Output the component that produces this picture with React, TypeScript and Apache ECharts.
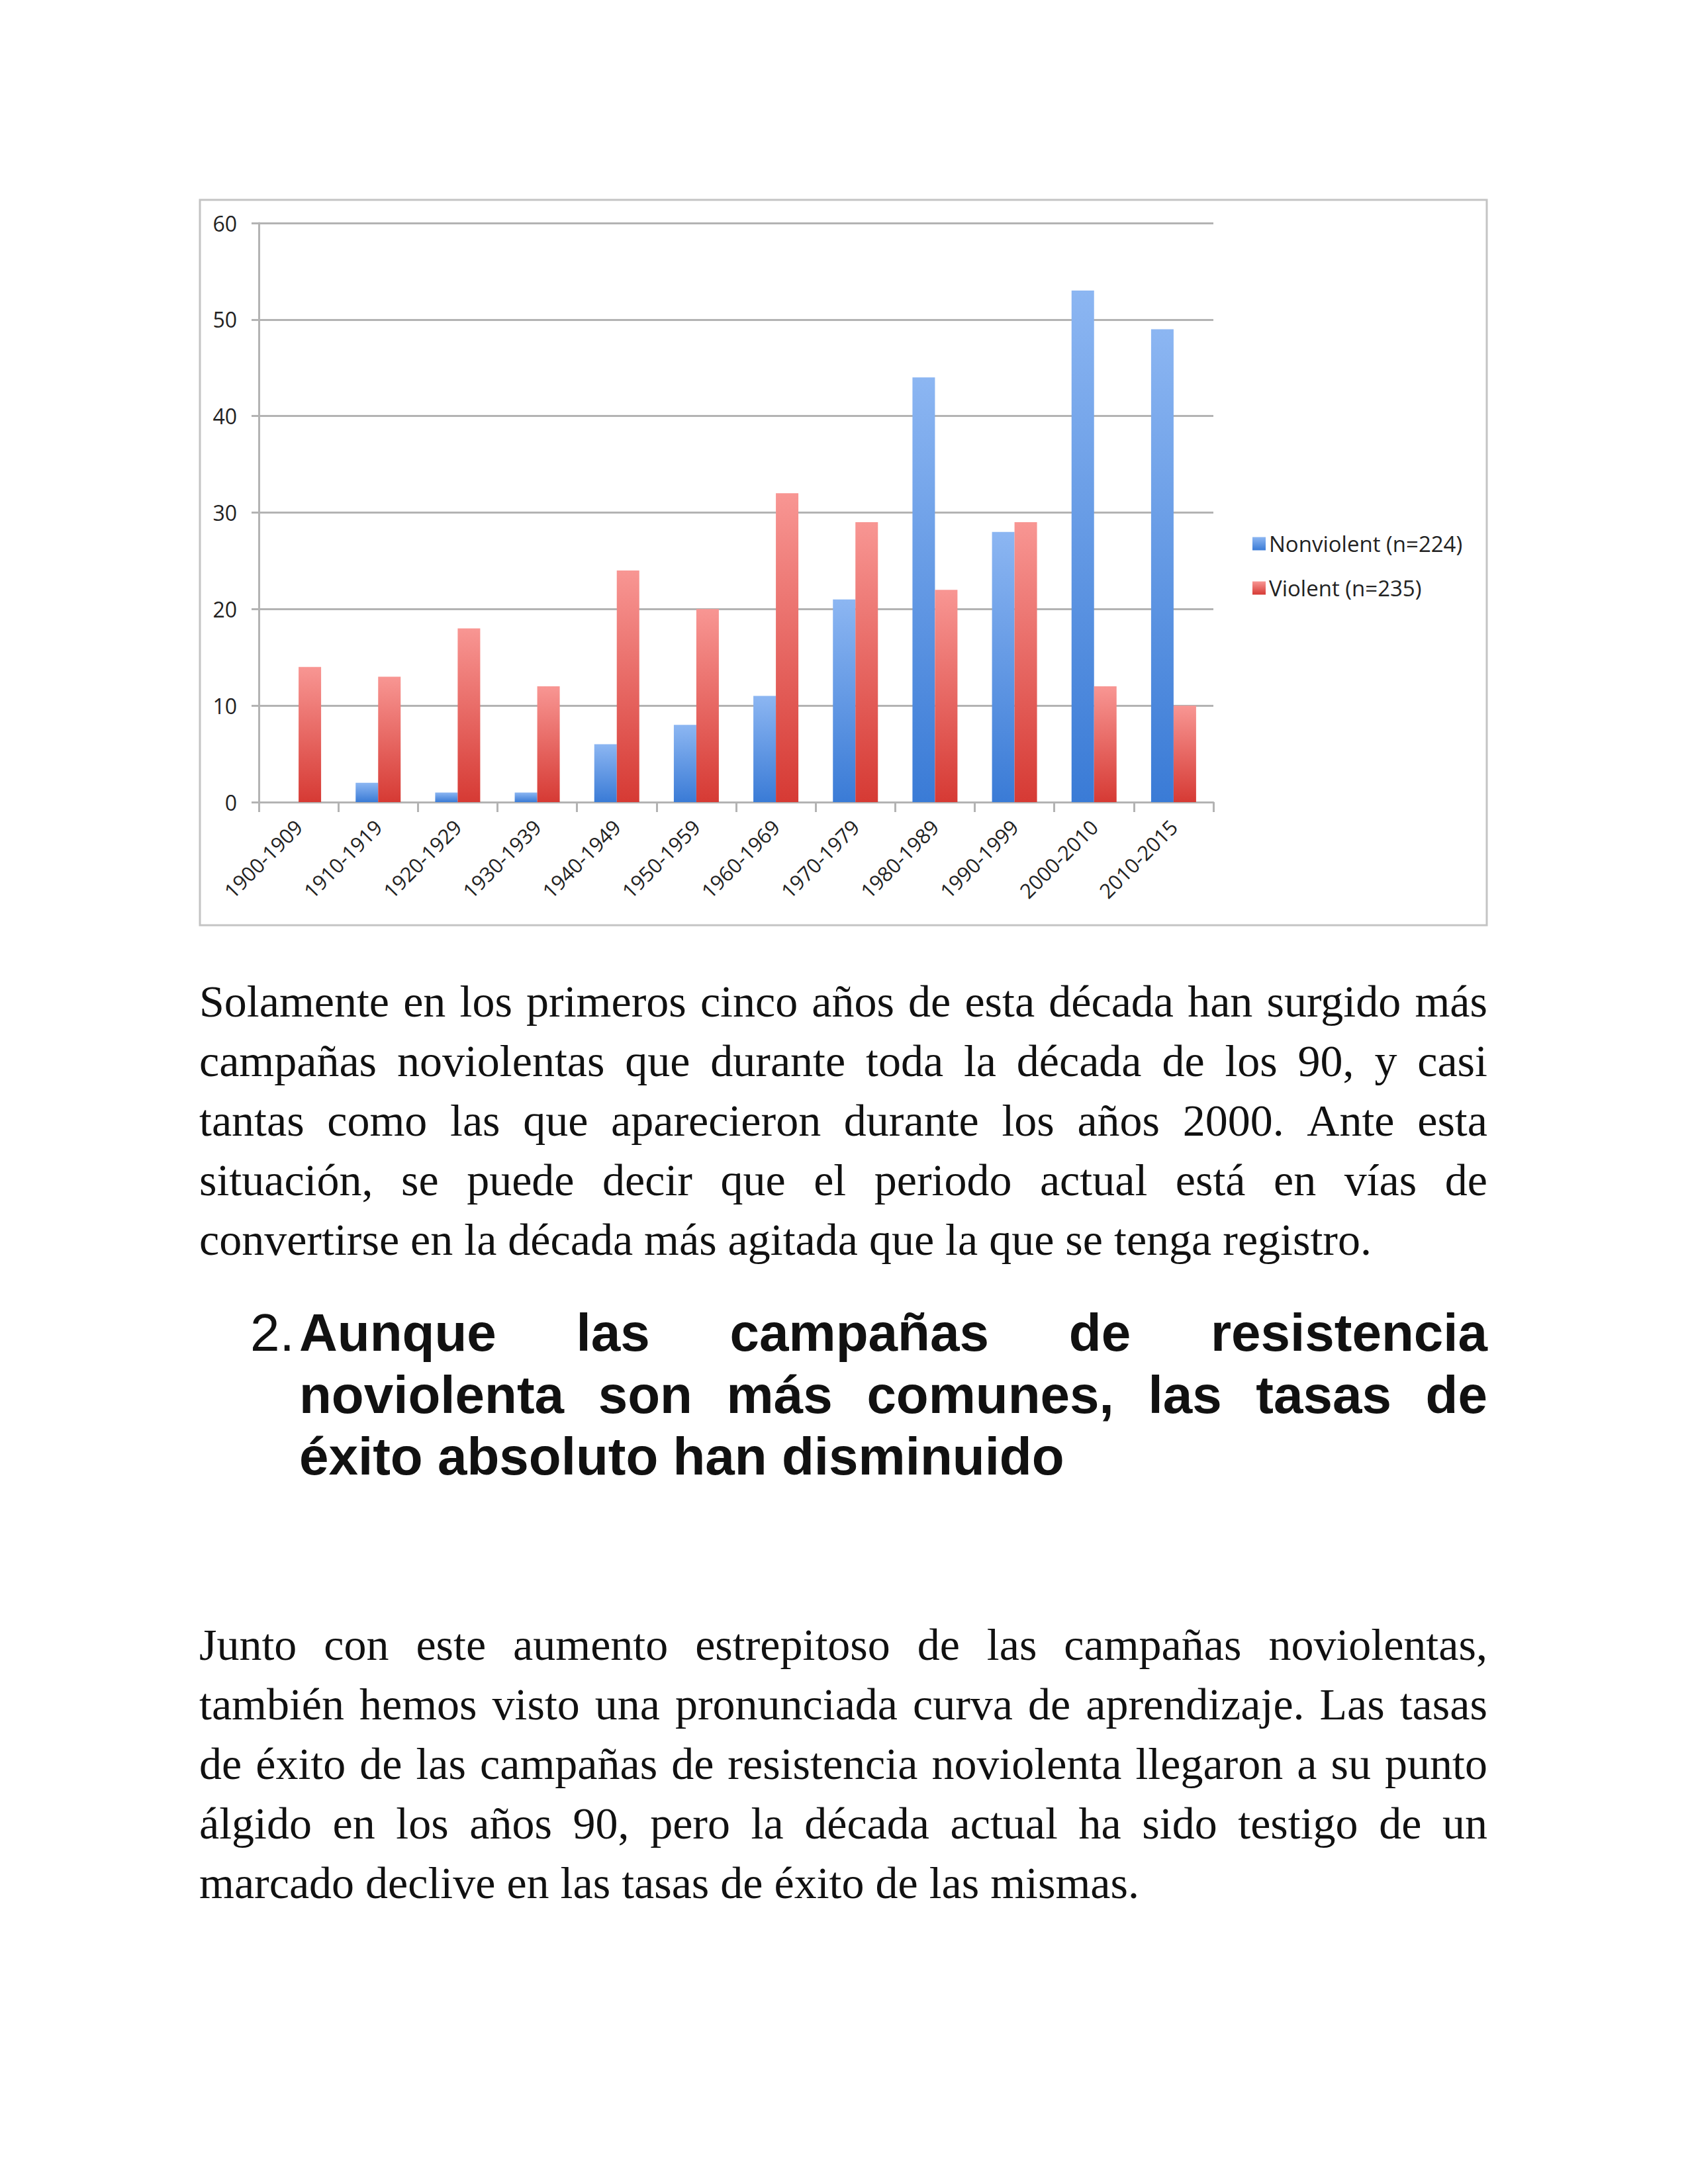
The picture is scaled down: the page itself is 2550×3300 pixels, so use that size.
import React, { useEffect, useRef } from "react";
import * as echarts from "echarts";

const categories = [
  "1900-1909", "1910-1919", "1920-1929", "1930-1939", "1940-1949", "1950-1959",
  "1960-1969", "1970-1979", "1980-1989", "1990-1999", "2000-2010", "2010-2015",
];
const nonviolent = [0, 2, 1, 1, 6, 8, 11, 21, 44, 28, 53, 49];
const violent = [14, 13, 18, 12, 24, 20, 32, 29, 22, 29, 12, 10];
const seriesNames = ["Nonviolent (n=224)", "Violent (n=235)"];
const yMin = 0;
const yMax = 60;
const yInterval = 10;

const para1 = [
  "Solamente en los primeros cinco años de esta década han surgido más",
  "campañas noviolentas que durante toda la década de los 90, y casi",
  "tantas como las que aparecieron durante los años 2000. Ante esta",
  "situación, se puede decir que el periodo actual está en vías de",
  "convertirse en la década más agitada que la que se tenga registro.",
];
const headingNumber = "2.";
const heading = [
  "Aunque las campañas de resistencia",
  "noviolenta son más comunes, las tasas de",
  "éxito absoluto han disminuido",
];
const para2 = [
  "Junto con este aumento estrepitoso de las campañas noviolentas,",
  "también hemos visto una pronunciada curva de aprendizaje. Las tasas",
  "de éxito de las campañas de resistencia noviolenta llegaron a su punto",
  "álgido en los años 90, pero la década actual ha sido testigo de un",
  "marcado declive en las tasas de éxito de las mismas.",
];

function Line({ text, justify, style }: { text: string; justify: boolean; style: React.CSSProperties }) {
  if (!justify) {
    return <div style={{ ...style, whiteSpace: "nowrap" }}>{text}</div>;
  }
  const words = text.split(" ");
  return (
    <div style={{ ...style, display: "flex", justifyContent: "space-between", whiteSpace: "nowrap" }}>
      {words.map((w, i) => (
        <React.Fragment key={i}>
          {i > 0 ? " " : null}
          <span>{w}</span>
        </React.Fragment>
      ))}
    </div>
  );
}

function Chart() {
  const ref = useRef<HTMLDivElement>(null);
  useEffect(() => {
    if (!ref.current) return;
    const chart = echarts.init(ref.current, null, { renderer: "svg" });
    const blue = new echarts.graphic.LinearGradient(0, 0, 0, 1, [
      { offset: 0, color: "#8cb6f2" },
      { offset: 1, color: "#3a7bd6" },
    ]);
    const red = new echarts.graphic.LinearGradient(0, 0, 0, 1, [
      { offset: 0, color: "#f89693" },
      { offset: 1, color: "#d63a34" },
    ]);
    const gray = "#b3b3b3";
    chart.setOption({
      animation: false,
      backgroundColor: "#ffffff",
      textStyle: { fontFamily: "Open Sans" },
      graphic: [
        {
          type: "rect",
          z: -1,
          shape: { x: 302, y: 302, width: 1944, height: 1096 },
          style: { fill: "#ffffff", stroke: "#c4c4c4", lineWidth: 3 },
        },
      ],
      grid: { left: 391, top: 337, width: 1442, height: 875 },
      legend: {
        orient: "vertical",
        left: 1887,
        top: 800,
        itemWidth: 20,
        itemHeight: 20,
        itemGap: 34,
        icon: "rect",
        textStyle: { fontSize: 33, color: "#222", fontFamily: "Open Sans" },
        data: seriesNames,
      },
      xAxis: {
        type: "category",
        data: categories,
        boundaryGap: true,
        axisLine: { show: true, lineStyle: { color: gray, width: 3 } },
        axisTick: { show: true, length: 15, alignWithLabel: false, lineStyle: { color: gray, width: 3 } },
        axisLabel: { rotate: 45, fontSize: 31, color: "#222", margin: 32, interval: 0, fontFamily: "Open Sans" },
      },
      yAxis: {
        type: "value",
        min: yMin,
        max: yMax,
        interval: yInterval,
        axisLine: { show: true, lineStyle: { color: gray, width: 3 } },
        axisTick: { show: true, inside: false, length: 11, lineStyle: { color: gray, width: 3 } },
        splitLine: { show: true, lineStyle: { color: gray, width: 3 } },
        axisLabel: { fontSize: 32, color: "#222", margin: 33, fontFamily: "Open Sans" },
      },
      series: [
        {
          name: seriesNames[0],
          type: "bar",
          data: nonviolent,
          barWidth: 34,
          barGap: "0%",
          itemStyle: { color: blue },
        },
        {
          name: seriesNames[1],
          type: "bar",
          data: violent,
          barWidth: 34,
          barGap: "0%",
          itemStyle: { color: red },
        },
      ],
    });
    return () => chart.dispose();
  }, []);
  return <div ref={ref} style={{ position: "absolute", left: 0, top: 0, width: 2550, height: 1450 }} />;
}

export default function App() {
  const serif: React.CSSProperties = {
    position: "absolute",
    left: 301,
    width: 1946,
    fontFamily: "'Liberation Serif', serif",
    fontSize: 68,
    lineHeight: "90px",
    height: 90,
    color: "#111",
  };
  const sans: React.CSSProperties = {
    position: "absolute",
    fontFamily: "'Liberation Sans', Arial, sans-serif",
    fontSize: 80,
    lineHeight: "94px",
    height: 94,
    color: "#111",
  };
  const p1Base = 1536;
  const p2Base = 2508;
  const hBase = 2042;
  return (
    <div style={{ position: "absolute", left: 0, top: 0, width: 2550, height: 3300, background: "#fff", overflow: "hidden" }}>
      <Chart />
      {para1.map((t, i) => (
        <Line key={"a" + i} text={t} justify={i < para1.length - 1} style={{ ...serif, top: p1Base - 68 + i * 90 }} />
      ))}
      <div style={{ ...sans, left: 378, top: hBase - 75, fontWeight: 400, whiteSpace: "nowrap" }}>{headingNumber}</div>
      {heading.map((t, i) => (
        <Line
          key={"h" + i}
          text={t}
          justify={i < heading.length - 1}
          style={{ ...sans, left: 452, width: 1795, fontWeight: 700, top: hBase - 75 + i * 93.5 }}
        />
      ))}
      {para2.map((t, i) => (
        <Line key={"b" + i} text={t} justify={i < para2.length - 1} style={{ ...serif, top: p2Base - 68 + i * 90 }} />
      ))}
    </div>
  );
}
